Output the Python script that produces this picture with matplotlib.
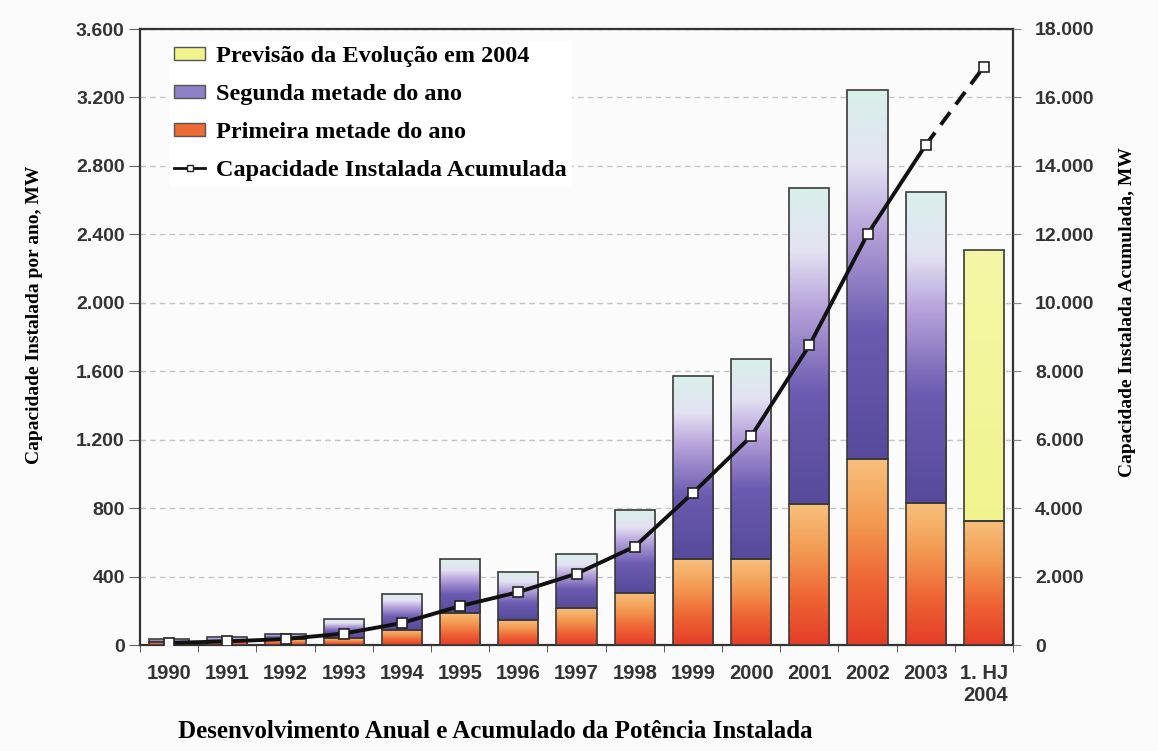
import numpy as np
import matplotlib
matplotlib.use("Agg")
import matplotlib.pyplot as plt
from matplotlib.colors import LinearSegmentedColormap
from matplotlib.patches import Patch
from matplotlib.lines import Line2D
from matplotlib.ticker import FuncFormatter

# data
anos = ["1990", "1991", "1992", "1993", "1994", "1995", "1996", "1997",
        "1998", "1999", "2000", "2001", "2002", "2003", "1. HJ\n2004"]
primeira = [20, 25, 35, 40, 88, 188, 148, 215, 305, 502, 502, 822, 1086, 828, 727]
segunda = [15, 20, 30, 110, 212, 312, 277, 315, 485, 1068, 1168, 1850, 2160, 1822, 0]
previsao = [0, 0, 0, 0, 0, 0, 0, 0, 0, 0, 0, 0, 0, 0, 1583]
acumulada = [60, 106, 174, 334, 643, 1137, 1546, 2082, 2875, 4443, 6095, 8754, 12001, 14609, 16900]

serif = "Liberation Serif"
sans = "Liberation Sans"
cor_txt = "#333333"

cmap_prim = LinearSegmentedColormap.from_list(
    "prim", ["#e43d28", "#ee6434", "#f39a52", "#f7c07c"])
cmap_seg = LinearSegmentedColormap.from_list(
    "seg", [(0.0, "#574a9a"), (0.35, "#6c5bb0"), (0.62, "#b6a3db"),
            (0.8, "#e4e2f2"), (1.0, "#d9f0ea")])
cmap_prev = LinearSegmentedColormap.from_list("prev", ["#f1f48e", "#f4f7a6"])

fig = plt.figure(figsize=(11.58, 7.51), dpi=100, facecolor="#fbfbfb")
ax = fig.add_axes([140 / 1158, 1 - 645 / 751, (1013 - 140) / 1158, (645 - 29) / 751])
ax.set_facecolor("#fbfbfb")

x = np.arange(len(anos))
w = 0.69
grad = np.linspace(0, 1, 256).reshape(-1, 1)


def barra(xi, base, alt, cmap):
    if alt <= 0:
        return
    r = ax.bar(xi, alt, w, bottom=base, facecolor="none",
               edgecolor="#3a3a3a", lw=1.2, zorder=4)[0]
    im = ax.imshow(grad, cmap=cmap, origin="lower", aspect="auto",
                   extent=[xi - w / 2, xi + w / 2, base, base + alt], zorder=3)
    im.set_clip_path(r)


for i in x:
    barra(i, 0, primeira[i], cmap_prim)
    barra(i, primeira[i], segunda[i], cmap_seg)
    barra(i, primeira[i] + segunda[i], previsao[i], cmap_prev)

ax.set_xlim(-0.48, 14.48)
ax.set_ylim(0, 3600)
ax.set_yticks(np.arange(0, 3601, 400))
fmt = FuncFormatter(lambda v, p: f"{int(v):,}".replace(",", "."))
ax.yaxis.set_major_formatter(fmt)
ax.grid(axis="y", ls=(0, (4, 3)), color="#c4c4c4", lw=1, zorder=1)
ax.set_axisbelow(True)

ax.set_xticks(x)
ax.set_xticklabels(anos)
ax.set_xticks(np.arange(-0.5, 15, 1), minor=True)
ax.tick_params(axis="x", which="major", length=0, pad=14)
ax.tick_params(axis="x", which="minor", length=5, direction="out", color="#444")
ax.tick_params(axis="y", length=8, color="#666", pad=3)
for lab in ax.get_xticklabels():
    lab.set_fontfamily(sans)
    lab.set_fontweight("bold")
    lab.set_fontsize(14.5)
    lab.set_color(cor_txt)
    lab.set_horizontalalignment("center")
ax.get_xticklabels()[-1].set_multialignment("right")
for lab in ax.get_yticklabels():
    lab.set_fontfamily(sans)
    lab.set_fontweight("bold")
    lab.set_fontsize(14)
    lab.set_color(cor_txt)

for s in ax.spines.values():
    s.set_color("#333333")
    s.set_linewidth(1.6)

ax2 = ax.twinx()
ax2.set_ylim(0, 18000)
ax2.set_yticks(np.arange(0, 18001, 2000))
ax2.yaxis.set_major_formatter(fmt)
ax2.tick_params(axis="y", length=6, color="#888", pad=10)
for lab in ax2.get_yticklabels():
    lab.set_fontfamily(sans)
    lab.set_fontweight("bold")
    lab.set_fontsize(14)
    lab.set_color(cor_txt)
for s in ax2.spines.values():
    s.set_visible(False)

ax2.plot(x[:-1], acumulada[:-1], color="#111111", lw=2.8, zorder=5)
ax2.plot(x[-2:], acumulada[-2:], color="#111111", lw=2.8, ls=(0, (4, 2.5)), zorder=5)
ax2.plot(x, acumulada, ls="none", marker="s", ms=6.5, mfc="white",
         mec="#222222", mew=1.2, zorder=6)

handles = [
    Patch(facecolor="#f1f48e", edgecolor="#555555"),
    Patch(facecolor="#8f7fc4", edgecolor="#555555"),
    Patch(facecolor="#ee6a36", edgecolor="#555555"),
    Line2D([], [], color="#111111", lw=2, marker="s", ms=5, mfc="white", mec="#222222"),
]
nomes = ["Previsão da Evolução em 2004", "Segunda metade do ano",
         "Primeira metade do ano", "Capacidade Instalada Acumulada"]
leg = ax2.legend(handles, nomes, loc="upper left", bbox_to_anchor=(0.02, 1.0),
                 frameon=True, facecolor="white", edgecolor="white", framealpha=1,
                 fancybox=False, handlelength=1.25, handleheight=0.45,
                 handletextpad=0.45, labelspacing=0.7, borderpad=0.2,
                 prop={"family": serif, "weight": "bold", "size": 17.5})
leg.set_zorder(10)

fig.text(35 / 1158, 1 - 315 / 751, "Capacidade Instalada por ano, MW", rotation=90,
         ha="center", va="center", fontfamily=serif, fontweight="bold", fontsize=14)
fig.text(1128 / 1158, 1 - 312 / 751, "Capacidade Instalada Acumulada, MW", rotation=90,
         ha="center", va="center", fontfamily=serif, fontweight="bold", fontsize=14)
fig.text(495 / 1158, 1 - 731 / 751, "Desenvolvimento Anual e Acumulado da Potência Instalada",
         ha="center", va="center", fontfamily=serif, fontweight="bold", fontsize=18)

fig.savefig("out.png", dpi=100, facecolor=fig.get_facecolor())
